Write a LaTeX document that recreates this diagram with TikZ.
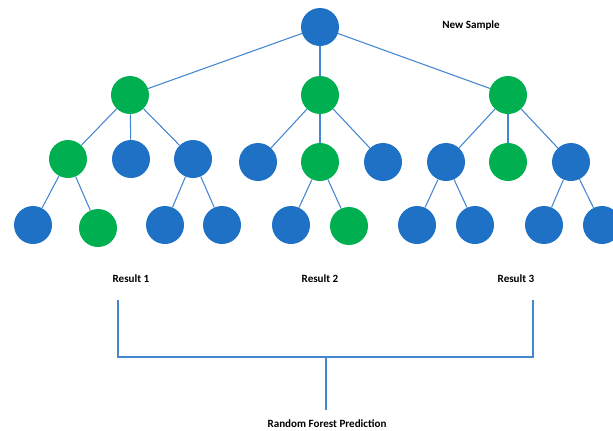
\documentclass[tikz,border=0pt]{standalone}
\usepackage{fontspec}
\setmainfont{Carlito}
\usepackage{xcolor}
\definecolor{leafblue}{RGB}{30,113,196}
\definecolor{leafgreen}{RGB}{0,176,80}
\definecolor{edgeblue}{RGB}{68,134,208}

\begin{document}
\begin{tikzpicture}[x=0.75pt,y=-0.75pt,
    bnode/.style={circle,fill=leafblue,minimum size=28.5pt,inner sep=0pt},
    gnode/.style={circle,fill=leafgreen,minimum size=28.5pt,inner sep=0pt},
    edge/.style={edgeblue,line width=0.8pt},
    lbl/.style={font=\bfseries\fontsize{8.3}{10}\selectfont,inner sep=0pt}]
      \useasboundingbox (0,0) rectangle (613,430);
      % tree
      \node[bnode] (R) at (320,27) {};
      \node[gnode] (A) at (130,95) {};
      \node[gnode] (B) at (320,95) {};
      \node[gnode] (C) at (508,95) {};
      \node[gnode] (A1) at (68,159) {};
      \node[bnode] (A2) at (131,159) {};
      \node[bnode] (A3) at (193,159) {};
      \node[bnode] (B1) at (258,162) {};
      \node[gnode] (B2) at (320,162) {};
      \node[bnode] (B3) at (383,162) {};
      \node[bnode] (C1) at (446,162) {};
      \node[gnode] (C2) at (508,162) {};
      \node[bnode] (C3) at (571,162) {};
      \node[bnode] (A11) at (33,225) {};
      \node[gnode] (A12) at (98,228) {};
      \node[bnode] (A31) at (165,225) {};
      \node[bnode] (A32) at (222,225) {};
      \node[bnode] (B21) at (291,225) {};
      \node[gnode] (B22) at (349,226) {};
      \node[bnode] (C11) at (417,225) {};
      \node[bnode] (C12) at (475,225) {};
      \node[bnode] (C31) at (544,225) {};
      \node[bnode] (C32) at (602,225) {};
      \foreach \p/\c in {R/A,R/B,R/C,A/A1,A/A2,A/A3,B/B1,B/B2,B/B3,C/C1,C/C2,C/C3,
          A1/A11,A1/A12,A3/A31,A3/A32,B2/B21,B2/B22,C1/C11,C1/C12,C3/C31,C3/C32}
        \draw[edge] (\p) -- (\c);
      % labels
      \node[lbl] (sample) at (471,25) {New Sample};
      \node[lbl] (res1) at (131,279) {Result 1};
      \node[lbl] (res2) at (320,279) {Result 2};
      \node[lbl] (res3) at (516,279) {Result 3};
      \node[lbl,anchor=north] (pred) at (327,419) {Random Forest Prediction};
      % vote bracket
      \coordinate (v1) at (118,300);
      \coordinate (v3) at (533,300);
      \coordinate (vm) at (326,357);
      \coordinate (vb) at (326,410);
      \draw[edge,line width=1.1pt] (v1) |- (vm) -| (v3);
      \draw[edge,line width=1.1pt] (vm) -- (vb);
    \end{tikzpicture}
\end{document}
